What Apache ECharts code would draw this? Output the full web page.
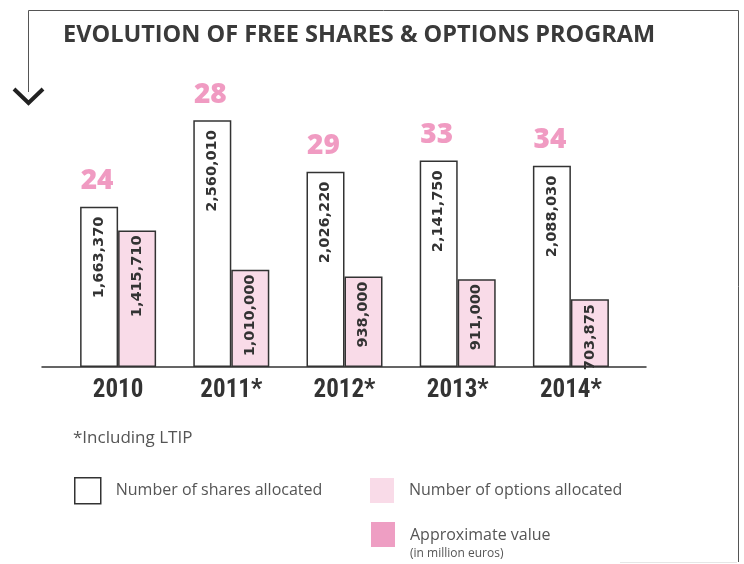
<!DOCTYPE html>
<html>
<head>
<meta charset="utf-8">
<script src="https://cdn.jsdelivr.net/npm/echarts@6/dist/echarts.min.js"></script>
<style>
  html, body { margin: 0; padding: 0; background: #fff; }
  #chart { width: 744px; height: 564px; }
</style>
</head>
<body>
<div id="chart"></div>
<script>
const years = ['2010', '2011*', '2012*', '2013*', '2014*'];
const sharesAllocated = [1663370, 2560010, 2026220, 2141750, 2088030];
const optionsAllocated = [1415710, 1010000, 938000, 911000, 703875];
const approxValue = [24, 28, 29, 33, 34];

const fmt = (v) => v.toLocaleString('en-US');

function buildChart() {
    let dom = document.getElementById('chart');
    let myChart = echarts.init(dom, null, { renderer: 'canvas' });

    let valueLabels = [];
    for (let i = 0; i < years.length; i++) {
        valueLabels.push([i, sharesAllocated[i], approxValue[i]]);
    }

    let insideLabel = {
        show: true,
        position: 'insideTop',
        rotate: 90,
        align: 'right',
        verticalAlign: 'middle',
        distance: 10,
        color: '#333',
        fontFamily: '"DejaVu Sans"',
        fontWeight: 'bold',
        fontSize: 14.5,
        formatter: (p) => fmt(p.value)
    };

    let legendText = { color: '#555', fontSize: 16, padding: [0, 0, 0, 10] };

    let option = {
        animation: false,
        textStyle: { fontFamily: 'Open Sans' },
        title: {
            text: 'EVOLUTION OF FREE SHARES & OPTIONS PROGRAM',
            left: 58,
            top: 18,
            textStyle: { color: '#3a3a3a', fontSize: 23.5, fontWeight: 'bold', fontFamily: 'Open Sans' }
        },
        grid: [
            { left: 61.5, width: 566, top: 72, bottom: 197, containLabel: false },
            { left: 42, right: 98, top: 72, bottom: 197, containLabel: false }
        ],
        xAxis: [
            {
                type: 'category',
                data: years,
                gridIndex: 0,
                axisLine: { show: false },
                axisTick: { show: false },
                axisLabel: {
                    margin: 11,
                    color: '#333',
                    fontFamily: '"Roboto Condensed", "DejaVu Sans Condensed", "Liberation Sans Narrow", Roboto, sans-serif',
                    fontWeight: 'bold',
                    fontSize: 25
                }
            },
            {
                type: 'value',
                gridIndex: 1,
                axisLine: { show: true, lineStyle: { color: '#333', width: 1.5 } },
                axisTick: { show: false },
                axisLabel: { show: false },
                splitLine: { show: false }
            }
        ],
        yAxis: [
            { type: 'value', gridIndex: 0, min: 0, max: 3060000, show: false },
            { type: 'value', gridIndex: 1, show: false }
        ],
        legend: [
            {
                left: 69, top: 472, itemWidth: 26, itemHeight: 26,
                selectedMode: false,
                textStyle: legendText,
                data: [{ name: 'Number of shares allocated', icon: 'rect',
                    itemStyle: { color: '#fff', borderColor: '#333', borderWidth: 1.5 } }]
            },
            {
                left: 365, top: 473, itemWidth: 24, itemHeight: 25,
                selectedMode: false,
                textStyle: legendText,
                data: [{ name: 'Number of options allocated', icon: 'rect',
                    itemStyle: { color: '#f9dbe8', borderWidth: 0 } }]
            },
            {
                left: 366, top: 517, itemWidth: 24, itemHeight: 25,
                selectedMode: false,
                formatter: () => '{a|Approximate value}\n{b|(in million euros)}',
                textStyle: {
                    padding: [18, 0, 0, 10],
                    rich: {
                        a: { color: '#555', fontSize: 16, lineHeight: 20 },
                        b: { color: '#555', fontSize: 12, lineHeight: 16 }
                    }
                },
                data: [{ name: 'Approximate value', icon: 'rect',
                    itemStyle: { color: '#ea86b4', borderWidth: 0 } }]
            }
        ],
        graphic: [
            { type: 'polyline', shape: { points: [[28.5, 92], [28.5, 10.5], [738.5, 10.5], [738.5, 562]] },
              style: { stroke: '#555', lineWidth: 1, fill: null } },
            { type: 'polyline', shape: { points: [[14, 89], [28.5, 103], [43, 89]] },
              style: { stroke: '#222', lineWidth: 4, fill: null } },
            { type: 'line', shape: { x1: 620, y1: 562.5, x2: 737, y2: 562.5 },
              style: { stroke: '#e6e6e6', lineWidth: 1 } },
            { type: 'text', left: 73, top: 430,
              style: { text: '*Including LTIP', fill: '#555', font: '17px "Open Sans"' } }
        ],
        series: [
            {
                name: 'Number of shares allocated',
                type: 'bar',
                xAxisIndex: 0, yAxisIndex: 0,
                barWidth: 38,
                barGap: '0%',
                data: sharesAllocated,
                itemStyle: { color: '#fff', borderColor: '#333', borderWidth: 1.5 },
                label: insideLabel
            },
            {
                name: 'Number of options allocated',
                type: 'bar',
                xAxisIndex: 0, yAxisIndex: 0,
                barWidth: 38,
                data: optionsAllocated,
                itemStyle: { color: '#f9dbe8', borderColor: '#333', borderWidth: 1.5 },
                label: Object.assign({}, insideLabel, { distance: 5 })
            },
            {
                name: 'Approximate value',
                type: 'scatter',
                xAxisIndex: 0, yAxisIndex: 0,
                symbolSize: 1,
                itemStyle: { color: 'rgba(0,0,0,0)' },
                data: valueLabels,
                label: {
                    show: true,
                    position: 'top',
                    offset: [-21, 0],
                    distance: 11,
                    color: '#ec82b3',
                    fontFamily: 'Open Sans',
                    fontWeight: 800,
                    fontSize: 28,
                    formatter: (p) => String(p.value[2])
                }
            }
        ]
    };

    myChart.setOption(option);
    window.addEventListener('resize', myChart.resize);
}

buildChart();
</script>
</body>
</html>
